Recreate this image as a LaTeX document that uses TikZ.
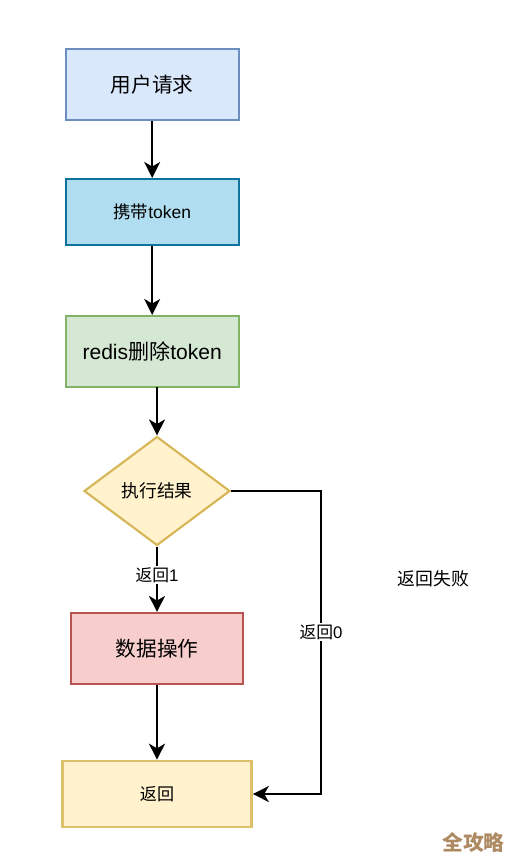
\documentclass[tikz,border=0pt]{standalone}
\usepackage{fontspec}
\setmainfont{Liberation Sans}
\newfontfamily\cjk{Noto Sans CJK SC}
\usetikzlibrary{arrows.meta,shapes.geometric}
\definecolor{bluef}{HTML}{DAE8FC}\definecolor{blued}{HTML}{6C8EBF}
\definecolor{cyanf}{HTML}{B1DDF0}\definecolor{cyand}{HTML}{10739E}
\definecolor{greenf}{HTML}{D5E8D4}\definecolor{greend}{HTML}{82B366}
\definecolor{yelf}{HTML}{FFF2CC}\definecolor{yeld}{HTML}{D6B656}
\definecolor{redf}{HTML}{F8CECC}\definecolor{redd}{HTML}{B85450}
\definecolor{ochref}{HTML}{FFF2CC}\definecolor{ochred}{HTML}{DDC06A}
\definecolor{wm}{HTML}{AD8A62}
\newcommand{\fs}[1]{\fontsize{#1}{#1}\selectfont}
\tikzset{
 box/.style={draw,rectangle,line width=1.6pt,inner sep=0pt,anchor=center,text=black},
 lab/.style={inner sep=1pt,text=black,anchor=center},
 conn/.style={draw=black,line width=1.6pt,-{Stealth[length=12pt,width=12pt,inset=3.5pt]}},
}
\begin{document}
\begin{tikzpicture}[x=0.75pt,y=-0.75pt]
\useasboundingbox (0,0) rectangle (510,862);
\node[box,fill=bluef,draw=blued,minimum width=129.75pt,minimum height=53.25pt] (a) at (152.2,84.5) {\raisebox{-0.6pt}{\cjk\fs{15.5}用户请求}};
\node[box,fill=cyanf,draw=cyand,minimum width=129.75pt,minimum height=49.5pt] (b) at (152.2,212) {\raisebox{-0.6pt}{\fs{13.1}{\cjk 携带}token}};
\node[box,fill=greenf,draw=greend,minimum width=129.75pt,minimum height=53.25pt] (c) at (152.2,351.5) {\raisebox{-0.6pt}{\fs{15.8}redis{\cjk 删除}token}};
\node[diamond,draw=yeld,fill=yelf,line width=1.6pt,inner sep=0pt,aspect=1.34,minimum width=109.5pt,minimum height=81.75pt,text=black] (d) at (157,491) {\raisebox{-0.6pt}{\cjk\fs{13.3}执行结果}};
\node[box,fill=redf,draw=redd,minimum width=129pt,minimum height=53.25pt] (e) at (157,648.5) {\raisebox{-0.6pt}{\cjk\fs{15.5}数据操作}};
\node[box,fill=ochref,draw=ochred,line width=2pt,minimum width=141.75pt,minimum height=49.5pt] (f) at (157,794) {\raisebox{-0.6pt}{\cjk\fs{12.8}返回}};
\coordinate (cTurnA) at (321,491);
\coordinate (cTurnB) at (321,794);
\coordinate (cOut) at (157,387);
\draw[conn] (a.south) -- (b.north);
\draw[conn] (b.south) -- (c.north);
\draw[conn] (cOut) -- (d.north);
\draw[conn] (d.south) -- node[lab,fill=white,pos=0.435] {\raisebox{-0.6pt}{\fs{12.6}{\cjk 返回}1}} (e.north);
\draw[conn] (e.south) -- (f.north);
\draw[conn] (d.east) -- (cTurnA) -- node[lab,fill=white,pos=0.465] {\raisebox{-0.6pt}{\fs{12.6}{\cjk 返回}0}} (cTurnB) -- (f.east);
\node[lab] (g) at (433.5,578.7) {\cjk\fs{13.4}返回失败};
\node[lab] (w) at (473.5,843) {\cjk\bfseries\fs{15.6}\textcolor{wm}{全攻略}};
\end{tikzpicture}
\end{document}
